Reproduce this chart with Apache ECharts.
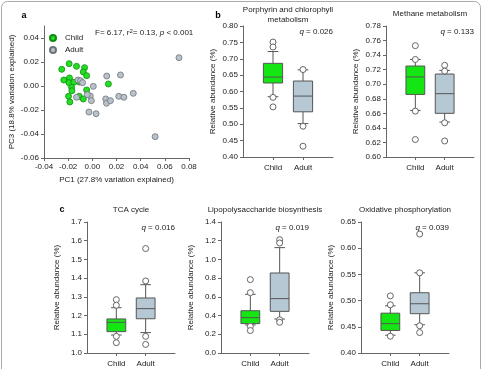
<!DOCTYPE html>
<html>
<head>
<meta charset="utf-8">
<script src="https://cdn.jsdelivr.net/npm/echarts@6.0.0/dist/echarts.min.js"></script>
</head>
<body style="margin:0">
<div id="main" style="width:483px;height:369px"></div>
<script>
// panel a: PCoA scores
var childPC1 = [-0.0253, -0.0192, -0.0131, -0.0064, -0.0075, -0.0047, -0.0189, -0.0236, -0.0194, -0.0153, -0.0108, -0.0172, -0.0169, -0.0047, -0.0197, -0.0108, -0.0075, -0.0186, 0.0133];
var childPC3 = [0.0139, 0.0186, 0.0164, 0.0153, 0.0117, 0.0086, 0.0067, 0.0050, 0.0028, 0.0031, 0.0033, -0.0011, -0.0039, -0.0033, -0.0086, -0.0086, -0.0108, -0.0133, 0.0017];
var adultPC1 = [-0.0119, -0.0097, -0.0081, 0.0008, 0.0119, 0.0233, -0.0017, -0.0008, -0.0042, -0.0131, 0.0111, 0.0117, 0.0150, 0.0219, 0.0261, 0.0339, -0.0028, 0.0031, 0.0520, 0.0717];
var adultPC3 = [0.0050, 0.0044, 0.0028, -0.0003, 0.0083, 0.0092, -0.0083, -0.0122, -0.0072, -0.0094, -0.0108, -0.0144, -0.0122, -0.0086, -0.0094, -0.0061, -0.0217, -0.0231, -0.0422, 0.0236];
var pcTicksY = [-0.06, -0.04, -0.02, 0, 0.02, 0.04];

// panels b, c: box stats [low whisker, Q1, median, Q3, high whisker]
var groups = ['Child', 'Adult'];
var pathways = ['Porphyrin and chlorophyll\nmetabolism', 'Methane metabolism', 'TCA cycle', 'Lipopolysaccharide biosynthesis', 'Oxidative phosphorylation'];
var qValues = ['0.026', '0.133', '0.016', '0.019', '0.039'];
var childBox = [
    [0.584, 0.626, 0.644, 0.686, 0.722],
    [0.664, 0.686, 0.710, 0.725, 0.734],
    [1.096, 1.114, 1.164, 1.182, 1.242],
    [0.300, 0.314, 0.378, 0.452, 0.627],
    [0.434, 0.443, 0.456, 0.476, 0.490]
];
var adultBox = [
    [0.502, 0.538, 0.586, 0.632, 0.666],
    [0.648, 0.660, 0.687, 0.714, 0.719],
    [1.109, 1.183, 1.237, 1.294, 1.365],
    [0.363, 0.445, 0.581, 0.855, 1.126],
    [0.454, 0.475, 0.494, 0.515, 0.553]
];
var childOut = [
    [0.751, 0.736, 0.582, 0.553],
    [0.753, 0.734, 0.663, 0.624],
    [1.285, 1.255, 1.089, 1.055],
    [0.784, 0.645, 0.285, 0.240],
    [0.509, 0.492, 0.432]
];
var adultOut = [
    [0.667, 0.494, 0.433],
    [0.726, 0.718, 0.647, 0.622],
    [1.558, 1.385, 1.089, 1.046],
    [1.211, 1.176, 0.355, 0.328],
    [0.627, 0.553, 0.452, 0.439]
];
var yMin = [0.40, 0.60, 1.0, 0.0, 0.40];
var yMax = [0.80, 0.78, 1.7, 1.4, 0.65];
var yStep = [0.05, 0.02, 0.1, 0.2, 0.05];
var yDec = [2, 2, 1, 1, 2];

var FONT = '"Liberation Sans", Arial, sans-serif';
var AXIS_COL = '#666';
var TXT = '#222';
var CHILD_COL = '#14e614';
var ADULT_COL = '#b6c8d4';

// grid rects [left, top, width, height]
var boxGrids = [
    [243, 26, 90, 131],
    [386, 26, 88, 131],
    [87, 222, 88, 131],
    [221, 222, 88, 131],
    [361, 222, 88, 131]
];

var grids = [{left: 44, top: 26, width: 145, height: 132}];
var xAxes = [{
    gridIndex: 0, type: 'value', min: -0.04, max: 0.08, interval: 0.02,
    name: 'PC1 (27.8% variation explained)', nameLocation: 'middle', nameGap: 18,
    nameTextStyle: {fontSize: 8, color: TXT, fontFamily: FONT},
    axisLine: {onZero: false, lineStyle: {color: AXIS_COL}},
    axisTick: {length: 3, lineStyle: {color: AXIS_COL}},
    axisLabel: {fontSize: 8, color: TXT, fontFamily: FONT, margin: 5,
        formatter: function (v) { return v.toFixed(2); }},
    splitLine: {show: false}
}];
var yAxes = [{
    gridIndex: 0, type: 'value', min: -0.06, max: 0.05,
    name: 'PC3 (18.8% variation explained)', nameLocation: 'middle', nameGap: 28,
    nameTextStyle: {fontSize: 8, color: TXT, fontFamily: FONT},
    axisLine: {show: true, onZero: false, lineStyle: {color: AXIS_COL}},
    axisTick: {show: true, length: 3, lineStyle: {color: AXIS_COL}, customValues: pcTicksY},
    axisLabel: {fontSize: 8, color: TXT, fontFamily: FONT, margin: 5, customValues: pcTicksY,
        formatter: function (v) { return v.toFixed(2); }},
    splitLine: {show: false}
}];
var series = [
    {
        name: 'Child', type: 'scatter', xAxisIndex: 0, yAxisIndex: 0, symbolSize: 6,
        itemStyle: {color: '#22e022', borderColor: '#128a12', borderWidth: 0.8, opacity: 1},
        data: childPC1.map(function (x, i) { return [x, childPC3[i]]; })
    },
    {
        name: 'Adult', type: 'scatter', xAxisIndex: 0, yAxisIndex: 0, symbolSize: 6,
        itemStyle: {color: '#b9c2ca', borderColor: '#6b737a', borderWidth: 0.8, opacity: 1},
        data: adultPC1.map(function (x, i) { return [x, adultPC3[i]]; })
    }
];

function renderBox(params, api) {
    var x = api.value(0);
    var lo = api.coord([x, api.value(1)]);
    var q1 = api.coord([x, api.value(2)]);
    var md = api.coord([x, api.value(3)]);
    var q3 = api.coord([x, api.value(4)]);
    var hi = api.coord([x, api.value(5)]);
    var bw = api.size([0.64, 0])[0];
    var cw = api.size([0.36, 0])[0];
    var cx = lo[0];
    var ln = {stroke: '#555', lineWidth: 1};
    return {
        type: 'group',
        children: [
            {type: 'line', shape: {x1: cx, y1: lo[1], x2: cx, y2: q1[1]}, style: ln},
            {type: 'line', shape: {x1: cx, y1: q3[1], x2: cx, y2: hi[1]}, style: ln},
            {type: 'line', shape: {x1: cx - cw / 2, y1: lo[1], x2: cx + cw / 2, y2: lo[1]}, style: ln},
            {type: 'line', shape: {x1: cx - cw / 2, y1: hi[1], x2: cx + cw / 2, y2: hi[1]}, style: ln},
            {type: 'rect', shape: {x: cx - bw / 2, y: q3[1], width: bw, height: q1[1] - q3[1]},
                style: {fill: params.dataIndex === 0 ? CHILD_COL : ADULT_COL, stroke: '#555', lineWidth: 1}},
            {type: 'line', shape: {x1: cx - bw / 2, y1: md[1], x2: cx + bw / 2, y2: md[1]}, style: ln}
        ]
    };
}

var graphics = [
    {type: 'rect', shape: {x: 1.5, y: 1.5, width: 479, height: 380, r: 6},
        style: {fill: null, stroke: '#aaa', lineWidth: 1}, z: 100},
    {type: 'text', x: 24, y: 16, style: {text: 'a', font: 'bold 9px ' + FONT, fill: '#000', align: 'center', verticalAlign: 'middle'}},
    {type: 'text', x: 218, y: 16, style: {text: 'b', font: 'bold 9px ' + FONT, fill: '#000', align: 'center', verticalAlign: 'middle'}},
    {type: 'text', x: 62, y: 210, style: {text: 'c', font: 'bold 9px ' + FONT, fill: '#000', align: 'center', verticalAlign: 'middle'}},
    {type: 'text', x: 95, y: 33, style: {
        text: 'F= 6.17, r{s|2}= 0.13, {i|p} < 0.001', fontSize: 8, fontFamily: FONT, fill: TXT, verticalAlign: 'middle',
        rich: {s: {fontSize: 6, verticalAlign: 'top', padding: [0, 0, 4, 0]}, i: {fontStyle: 'italic', fontSize: 8}}
    }}
];

boxGrids.forEach(function (g, k) {
    var gi = k + 1;
    grids.push({left: g[0], top: g[1], width: g[2], height: g[3]});
    xAxes.push({
        gridIndex: gi, type: 'value', min: -1, max: 2,
        axisLine: {onZero: false, lineStyle: {color: AXIS_COL}},
        axisTick: {length: 3, lineStyle: {color: AXIS_COL}, customValues: [0, 1]},
        axisLabel: {fontSize: 8, color: TXT, fontFamily: FONT, margin: 7, customValues: [0, 1],
            formatter: function (v) { return groups[Math.round(v)] || ''; }},
        splitLine: {show: false}
    });
    yAxes.push({
        gridIndex: gi, type: 'value', min: yMin[k], max: yMax[k], interval: yStep[k],
        name: 'Relative abundance (%)', nameLocation: 'middle', nameGap: 26,
        nameTextStyle: {fontSize: 8, color: TXT, fontFamily: FONT},
        axisLine: {show: true, onZero: false, lineStyle: {color: AXIS_COL}},
        axisTick: {show: true, length: 3, lineStyle: {color: AXIS_COL}},
        axisLabel: {fontSize: 8, color: TXT, fontFamily: FONT, margin: 5,
            formatter: function (v) { return v.toFixed(yDec[k]); }},
        splitLine: {show: false}
    });
    series.push({
        name: 'box' + k, type: 'custom', xAxisIndex: gi, yAxisIndex: gi,
        renderItem: renderBox,
        data: [[0].concat(childBox[k]), [1].concat(adultBox[k])]
    });
    var outs = childOut[k].map(function (v) { return [0, v]; })
        .concat(adultOut[k].map(function (v) { return [1, v]; }));
    series.push({
        name: 'out' + k, type: 'scatter', xAxisIndex: gi, yAxisIndex: gi, symbolSize: 6, z: 5,
        itemStyle: {color: '#fff', borderColor: '#666', borderWidth: 1, opacity: 1},
        data: outs
    });
    var cxp = g[0] + g[2] / 2;
    var lines = pathways[k].split('\n');
    graphics.push({type: 'text', x: cxp, y: lines.length > 1 ? 15 : (g[1] - 12), style: {
        text: pathways[k], font: '8px ' + FONT, fill: TXT, align: 'center', verticalAlign: 'middle', lineHeight: 9.5}});
    graphics.push({type: 'text', x: g[0] + g[2], y: g[1] + 6, style: {
        text: '{i|q} = ' + qValues[k], fontSize: 8, fontFamily: FONT, fill: TXT, align: 'right', verticalAlign: 'middle',
        rich: {i: {fontStyle: 'italic', fontSize: 8}}}});
});

var chart = echarts.init(document.getElementById('main'));
chart.setOption({
    animation: false,
    backgroundColor: '#fff',
    grid: grids,
    xAxis: xAxes,
    yAxis: yAxes,
    legend: {
        data: ['Child', 'Adult'], orient: 'vertical', left: 44, top: 29,
        itemWidth: 14, itemHeight: 6, itemGap: 4, icon: 'circle',
        textStyle: {fontSize: 8, color: TXT, fontFamily: FONT}
    },
    graphic: graphics,
    series: series
});
</script>
</body>
</html>
